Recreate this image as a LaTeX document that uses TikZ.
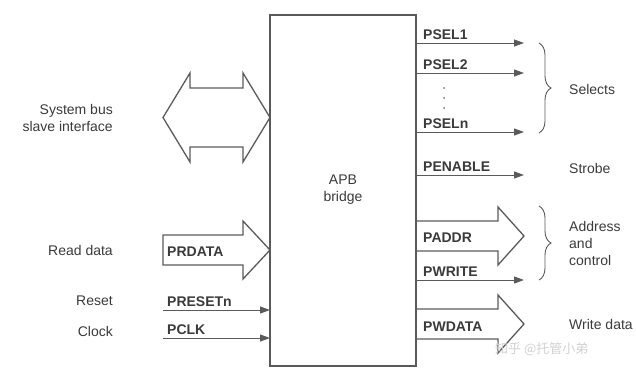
\documentclass[tikz,border=0pt]{standalone}
\usepackage{fontspec}
\setmainfont{Liberation Sans}
\newfontfamily\cjk{Noto Sans CJK SC}
\usetikzlibrary{arrows.meta,decorations.pathreplacing}
\definecolor{linegray}{HTML}{5A5A5A}
\definecolor{textgray}{HTML}{3A3A3A}
\tikzset{
  sig/.style={font=\fontsize{14}{16}\selectfont\bfseries, text=textgray, anchor=base west, inner sep=0pt},
  lbl/.style={font=\fontsize{14}{17}\selectfont, text=textgray, inner sep=0pt},
  wire/.style={draw=linegray, line width=1pt, -{Triangle[length=10pt,width=7pt]}},
  bus/.style={draw=linegray, line width=1.3pt, line join=miter},
  grp/.style={draw=linegray, line width=0.9pt, decorate, decoration={brace,amplitude=12pt}}
}
\begin{document}
\begin{tikzpicture}[x=1pt,y=-1pt]
\useasboundingbox (0,0) rectangle (636,368);
% bridge block
\draw[linegray, line width=1.3pt] (270,15) rectangle (416,366);
\node[lbl, align=center] (apb) at (343,190) {APB\\bridge};

% system bus slave side
\draw[bus] (163,117.5) -- (190,73) -- (190,88) -- (243,88) -- (243,73) -- (270,117.5)
  -- (243,162) -- (243,147) -- (190,147) -- (190,162) -- cycle;
\node[lbl, anchor=east, align=right] (sysbus) at (113,118) {System bus\\slave interface};

% inputs
\draw[bus] (163,235) -- (243,235) -- (243,221) -- (270,250) -- (243,279) -- (243,265) -- (163,265) -- cycle;
\node[sig] (prdata) at (167,256) {PRDATA};
\node[lbl, anchor=east] (rd) at (113,250) {Read data};

\coordinate (rstin) at (163,310);
\coordinate (rstout) at (270,310);
\draw[wire] (rstin) -- (rstout);
\node[sig] (presetn) at (167,306) {PRESETn};
\node[lbl, anchor=east] (rst) at (113,301) {Reset};

\coordinate (clkin) at (163,338);
\coordinate (clkout) at (270,338);
\draw[wire] (clkin) -- (clkout);
\node[sig] (pclk) at (167,334) {PCLK};
\node[lbl, anchor=east] (clk) at (113,331) {Clock};

% selects
\foreach \y/\name in {43/PSEL1, 73/PSEL2, 132/PSELn, 175/PENABLE} {
  \coordinate (o\name) at (416,\y);
  \coordinate (e\name) at (524,\y);
  \draw[wire] (o\name) -- (e\name);
  \node[sig] (\name) at (423,\y-4) {\name};
}
\foreach \y in {88,98,108}
  \fill[textgray!70] (444,\y) circle (1pt);
\draw[grp] (539,43) -- (539,133);
\node[lbl, anchor=west] (sel) at (569,89) {Selects};
\node[lbl, anchor=west] (strobe) at (569,168) {Strobe};

% address and control
\draw[bus] (416,221) -- (498,221) -- (498,207) -- (524,236) -- (498,265) -- (498,251) -- (416,251);
\node[sig] (paddr) at (423,242) {PADDR};
\coordinate (opwrite) at (416,280);
\coordinate (epwrite) at (524,280);
\draw[wire] (opwrite) -- (epwrite);
\node[sig] (pwrite) at (423,276) {PWRITE};
\draw[grp] (539,206) -- (539,280);
\node[lbl, anchor=west, align=left] (addr) at (569,243) {Address\\and\\control};

% write data
\draw[bus] (416,309) -- (498,309) -- (498,295) -- (524,324) -- (498,353) -- (498,339) -- (416,339);
\node[sig] (pwdata) at (423,331) {PWDATA};
\node[lbl, anchor=west] (wd) at (569,324) {Write data};

\node[font=\cjk\fontsize{13}{13}\selectfont, text=black!18, anchor=west, inner sep=0pt] (wm) at (495,349) {知乎 @托管小弟};
\end{tikzpicture}
\end{document}
